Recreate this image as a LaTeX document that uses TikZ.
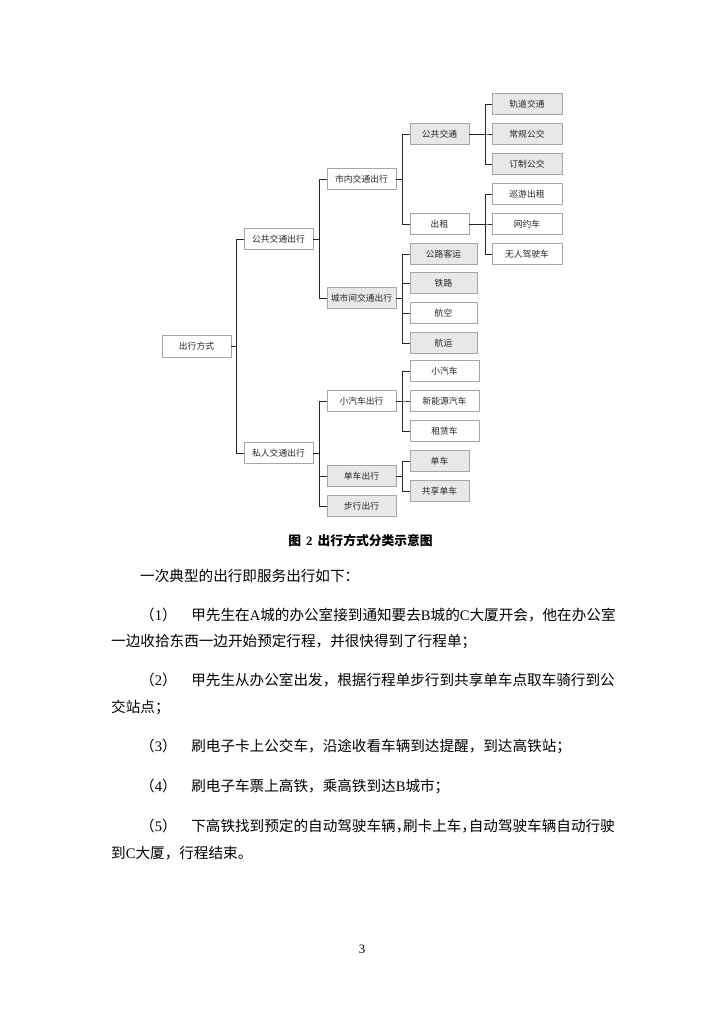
\documentclass[tikz,border=0pt]{standalone}
\usepackage{fontspec}
\setmainfont{Liberation Serif}
\newfontfamily\cjk{Noto Sans CJK SC}

\newcommand\boxfont{\cjk\fontsize{7.2}{8.5}\selectfont}
\newcommand\bodyfont{\cjk\fontsize{12}{14}\selectfont}
\newcommand\lat[1]{{\rmfamily #1}}
\newcommand\hcomma{\makebox[0.5em][l]{，}}

\tikzset{
  box/.style={draw=gray!70, fill=white, minimum width=56.7pt, minimum height=17pt, inner sep=0pt, font=\boxfont, text=black!85},
  greybox/.style={box, fill=gray!18},
  link/.style={draw=black!85, line width=0.7pt},
  bodyline/.style={anchor=base west, inner sep=0pt, font=\bodyfont},
}

\begin{document}
\begin{tikzpicture}[x=0.8218pt, y=-0.8218pt]
            \useasboundingbox (0,0) rectangle (724,1024);

            %boxes
            \node (cx) at (196.5,346) [box, minimum height=18pt] {出行方式};
            \node (gg) at (278.5,239) [box] {公共交通出行};
            \node (sr) at (278.5,453) [box] {私人交通出行};
            \node (sn) at (361.5,179) [box] {市内交通出行};
            \node (cs) at (361.5,298) [greybox] {城市间交通出行};
            \node (xq) at (361.5,401) [box] {小汽车出行};
            \node (dx) at (361.5,476) [greybox] {单车出行};
            \node (bx) at (361.5,506) [greybox] {步行出行};
            \node (gj) at (439.5,134) [greybox, minimum width=48.5pt] {公共交通};
            \node (cz) at (439.5,224) [box, minimum width=48.5pt] {出租};
            \node (gd) at (527,104) [greybox, minimum width=57.5pt] {轨道交通};
            \node (cg) at (527,134) [greybox, minimum width=57.5pt] {常规公交};
            \node (dz) at (527,164) [greybox, minimum width=57.5pt] {订制公交};
            \node (xy) at (527,194) [box, minimum width=57.5pt] {巡游出租};
            \node (wy) at (527,224) [box, minimum width=57.5pt] {网约车};
            \node (wr) at (527,254) [box, minimum width=57.5pt] {无人驾驶车};
            \node (gl) at (443.5,254) [greybox, minimum width=55pt] {公路客运};
            \node (tl) at (443.5,283) [greybox, minimum width=55pt] {铁路};
            \node (hk) at (443.5,313) [box, minimum width=55pt] {航空};
            \node (hy) at (443.5,343) [greybox, minimum width=55pt] {航运};
            \node (qc) at (444.5,371) [box] {小汽车};
            \node (xn) at (444.5,401) [box] {新能源汽车};
            \node (zl) at (444.5,431) [box] {租赁车};
            \node (dc) at (439.5,461) [greybox, minimum width=48.5pt] {单车};
            \node (gx) at (439.5,491) [greybox, minimum width=48.5pt] {共享单车};

            %lines
            \draw[link] (cx.east) -| ([xshift=-6pt]gg.west) -- (gg.west);
            \draw[link] (cx.east) -| ([xshift=-6pt]sr.west) -- (sr.west);
            \draw[link] (gg.east) -| ([xshift=-6pt]sn.west) -- (sn.west);
            \draw[link] (gg.east) -| ([xshift=-6pt]cs.west) -- (cs.west);
            \draw[link] (sr.east) -| ([xshift=-6pt]xq.west) -- (xq.west);
            \draw[link] (sr.east) -| ([xshift=-6pt]dx.west) -- (dx.west);
            \draw[link] (sr.east) -| ([xshift=-6pt]bx.west) -- (bx.west);
            \draw[link] (sn.east) -| ([xshift=-6pt]gj.west) -- (gj.west);
            \draw[link] (sn.east) -| ([xshift=-6pt]cz.west) -- (cz.west);
            \draw[link] (gj.east) -| ([xshift=-5pt]gd.west) -- (gd.west);
            \draw[link] (gj.east) -| ([xshift=-5pt]cg.west) -- (cg.west);
            \draw[link] (gj.east) -| ([xshift=-5pt]dz.west) -- (dz.west);
            \draw[link] (cz.east) -| ([xshift=-5pt]xy.west) -- (xy.west);
            \draw[link] (cz.east) -| ([xshift=-5pt]wy.west) -- (wy.west);
            \draw[link] (cz.east) -| ([xshift=-5pt]wr.west) -- (wr.west);
            \draw[link] (cs.east) -| ([xshift=-6pt]gl.west) -- (gl.west);
            \draw[link] (cs.east) -| ([xshift=-6pt]tl.west) -- (tl.west);
            \draw[link] (cs.east) -| ([xshift=-6pt]hk.west) -- (hk.west);
            \draw[link] (cs.east) -| ([xshift=-6pt]hy.west) -- (hy.west);
            \draw[link] (xq.east) -| ([xshift=-6pt]qc.west) -- (qc.west);
            \draw[link] (xq.east) -| ([xshift=-6pt]xn.west) -- (xn.west);
            \draw[link] (xq.east) -| ([xshift=-6pt]zl.west) -- (zl.west);
            \draw[link] (dx.east) -| ([xshift=-6pt]dc.west) -- (dc.west);
            \draw[link] (dx.east) -| ([xshift=-6pt]gx.west) -- (gx.west);

            %caption and text
            \node (cap) at (360.5,545) [anchor=base, inner sep=0pt, font=\cjk\bfseries\fontsize{10.5}{12}\selectfont] {图\hspace{0.4em}{\rmfamily 2}\hspace{0.4em}出行方式分类示意图};
            \node (t1) at (140,581.5) [bodyline] {一次典型的出行即服务出行如下：};
            \node (t2) at (140,620.5) [bodyline] {（{\rmfamily 1}）\hspace{1em}甲先生在\lat{A}城的办公室接到通知要去\lat{B}城的\lat{C}大厦开会，他在办公室};
            \node (t3) at (111,646.5) [bodyline] {一边收拾东西一边开始预定行程，并很快得到了行程单；};
            \node (t4) at (140,685.5) [bodyline] {（{\rmfamily 2}）\hspace{1em}甲先生从办公室出发，根据行程单步行到共享单车点取车骑行到公};
            \node (t5) at (111,712.5) [bodyline] {交站点；};
            \node (t6) at (140,751.5) [bodyline] {（{\rmfamily 3}）\hspace{1em}刷电子卡上公交车，沿途收看车辆到达提醒，到达高铁站；};
            \node (t7) at (140,791.5) [bodyline] {（{\rmfamily 4}）\hspace{1em}刷电子车票上高铁，乘高铁到达\lat{B}城市；};
            \node (t8) at (140,831.5) [bodyline] {（{\rmfamily 5}）\hspace{1em}下高铁找到预定的自动驾驶车辆\hcomma 刷卡上车\hcomma 自动驾驶车辆自动行驶};
            \node (t9) at (111,858.5) [bodyline] {到\lat{C}大厦，行程结束。};
            \node (pg) at (362,953) [anchor=base, inner sep=0pt, font=\fontsize{10.5}{12}\selectfont] {3};

\end{tikzpicture}
\end{document}
